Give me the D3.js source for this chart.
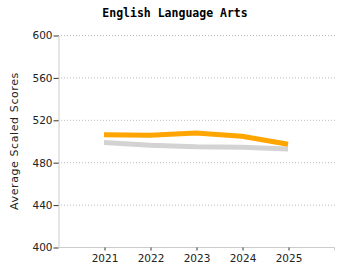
<!DOCTYPE html>
<html>
<head>
<meta charset="utf-8">
<script src="https://cdn.jsdelivr.net/npm/d3@7"></script>
<style>
  body { margin: 0; background: #fff; }
  text { font-family: "DejaVu Sans", Verdana, sans-serif; }
</style>
</head>
<body>
<svg id="chart" width="350" height="280"></svg>
<script>
const years = [2021, 2022, 2023, 2024, 2025];
const ela = [506, 505.5, 507.5, 504.5, 497];
const comparison = [498.5, 496, 494.5, 494, 492.5];
const yTicks = [400, 440, 480, 520, 560, 600];

const svg = d3.select('#chart');
const mLeft = 58, mRight = 334, mTop = 35, mBottom = 247;

var x = d3.scaleLinear().domain([2020, 2026]).range([mLeft, mRight]);
var y = d3.scaleLinear().domain([400, 600]).range([mBottom, mTop]);

// grid
svg.append('g').selectAll('line').data(yTicks.slice(1)).join('line')
    .attr('x1', mLeft).attr('x2', mRight + 1)
    .attr('y1', d => y(d) + 0.5).attr('y2', d => y(d) + 0.5)
    .attr('stroke', '#bbb').attr('stroke-dasharray', '1,2');

// axes
var yAxis = svg.append('g').attr('transform', 'translate(' + (mLeft + 0.5) + ',0.5)')
    .call(d3.axisLeft(y).tickValues(yTicks).tickSize(5).tickSizeOuter(0).tickPadding(1));
var xAxis = svg.append('g').attr('transform', 'translate(0.5,' + (mBottom + 0.5) + ')')
    .call(d3.axisBottom(x).tickValues(years).tickFormat(d3.format('d')).tickSize(3).tickPadding(4));

[yAxis, xAxis].forEach(function (g) {
    g.select('.domain').attr('stroke', '#ccc');
    g.selectAll('.tick line').attr('stroke', '#333');
    g.selectAll('.tick text').attr('fill', '#222').style('font-size', '10.5px');
});
xAxis.select('.domain').attr('d', 'M' + mLeft + ',0H' + mRight + 'V3');

var line = d3.line().x((d, i) => x(years[i])).y(d => y(d));

svg.append('path').datum(comparison).attr('d', line)
    .attr('fill', 'none').attr('stroke', '#d3d3d3').attr('stroke-width', 5)
    .attr('stroke-linejoin', 'round');
svg.append('path').datum(ela).attr('d', line)
    .attr('fill', 'none').attr('stroke', '#ffa500').attr('stroke-width', 5)
    .attr('stroke-linejoin', 'round');

// title
svg.append('text').attr('x', 175).attr('y', 17).attr('text-anchor', 'middle')
    .style('font-family', '"DejaVu Sans Mono", monospace').style('font-weight', 'bold')
    .style('font-size', '11.5px').attr('fill', '#000').text('English Language Arts');

// y label
svg.append('text').attr('transform', 'translate(18,141) rotate(-90)')
    .attr('text-anchor', 'middle').style('font-size', '11px').style('letter-spacing', '0.6px')
    .attr('fill', '#222').text('Average Scaled Scores');
</script>
</body>
</html>
